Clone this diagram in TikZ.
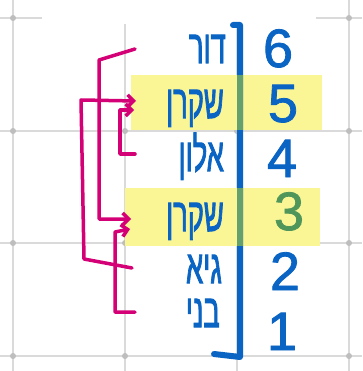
\documentclass[tikz,border=0pt]{standalone}
\usepackage{fontspec}
\setmainfont[FakeBold=1.5]{Liberation Sans}
\newfontfamily\hebfont[Script=Hebrew, FakeBold=2.5]{Liberation Sans}
\TeXXeTstate=1
\usetikzlibrary{arrows.meta}
\definecolor{pblue}{RGB}{10,100,195}
\definecolor{pmag}{RGB}{212,0,118}
\definecolor{pyel}{RGB}{250,246,150}
\definecolor{pgreen}{RGB}{100,160,110}
\definecolor{numgreen}{RGB}{80,150,90}
\definecolor{gridc}{RGB}{218,218,218}
\definecolor{gridd}{RGB}{190,190,190}
\begin{document}
\begin{tikzpicture}[x=1pt,y=-1pt,
  word/.style={anchor=base east, text=pblue, inner sep=0pt, font=\hebfont\fontsize{47}{47}\selectfont},
  num/.style={anchor=base, text=pblue, inner sep=0pt, font=\fontsize{54}{54}\selectfont},
  link/.style={draw=pmag, line width=3.5pt, line cap=round, line join=round},
  tip/.style={-{Straight Barb[length=6pt,width=12pt]}},
  gridline/.style={draw=gridc, line width=2pt},
  hilite/.style={fill=pyel, draw=none},
  bar/.style={draw=pblue, line width=6pt, line cap=round, line join=round}]
\useasboundingbox (0,0) rectangle (362,371);
\fill[white] (0,0) rectangle (362,371);
% grid
\foreach \gx in {13,125,237,349} \draw[gridline] (\gx,0) -- (\gx,371);
\foreach \gy in {18,131,243,356} \draw[gridline] (0,\gy) -- (362,\gy);
\foreach \gx in {13,125,237,349} \foreach \gy in {18,131,243,356} \fill[gridd] (\gx,\gy) circle (3pt);
\fill[white] (42,0) rectangle (316,24);
% highlights
\path[hilite] (131,75) rectangle (322,130);
\path[hilite] (125,188) rectangle (320,246);
% blue bracket line
\draw[bar] (233,25) -- (240,25) -- (240,357) -- (214,354);
\draw[draw=pgreen, line width=6pt] (240,75) -- (240,130);
\draw[draw=pgreen, line width=6pt] (240,188) -- (240,246);
% words
\node[word] (w6) at (226,63) {\scalebox{0.58}[1]{\beginR דור\endR}};
\node[word] (w5) at (224,118) {\scalebox{0.58}[1]{\beginR שקרן\endR}};
\node[word] (w4) at (224,171) {\scalebox{0.58}[1]{\beginR אלון\endR}};
\node[word] (w3) at (224,231) {\scalebox{0.58}[1]{\beginR שקרן\endR}};
\node[word] (w2) at (222,283) {\scalebox{0.58}[1]{\beginR גיא\endR}};
\node[word] (w1) at (220,327) {\scalebox{0.58}[1]{\beginR בני\endR}};
% numbers
\node[num] (n6) at (278,67) {6};
\node[num] (n5) at (283,122) {5};
\node[num] (n4) at (282,177) {4};
\node[num, text=numgreen] (n3) at (289,230) {3};
\node[num] (n2) at (285,290) {2};
\node[num] (n1) at (282,350) {1};
% connector anchor points
\coordinate (s6) at (135,49);
\coordinate (s4) at (135,154);
\coordinate (s2) at (132,268);
\coordinate (s1) at (135,312);
\coordinate (t5a) at (136,101);
\coordinate (t5b) at (134,110);
\coordinate (t3a) at (131,219);
\coordinate (t3b) at (130,229);
% connectors
\draw[link, tip] (s6) -- (99,60) -- (99,219) -- (t3a);
\draw[link, tip] (s2) -- (84,259) -- (81,100) -- (t5a);
\draw[link, tip] (s4) -- (120,154) -- (120,110) -- (t5b);
\draw[link, tip] (s1) -- (115,312) -- (115,232) -- (t3b);
\end{tikzpicture}
\end{document}
